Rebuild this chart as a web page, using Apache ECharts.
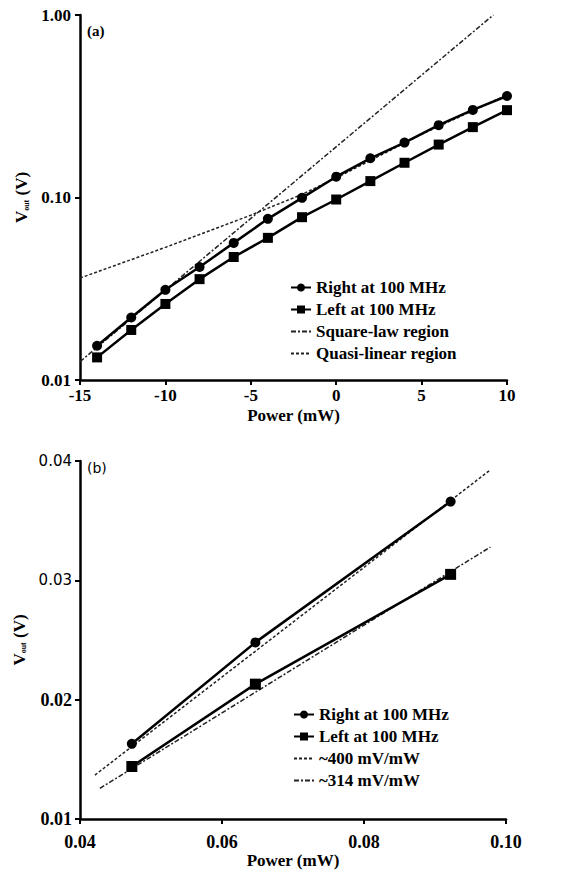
<!DOCTYPE html>
<html>
<head>
<meta charset="utf-8">
<script src="https://cdn.jsdelivr.net/npm/echarts@6/dist/echarts.min.js"></script>
<style>
	html, body { margin: 0; padding: 0; background: #fff; }
	#chart { width: 562px; height: 872px; }
</style>
</head>
<body>
<div id="chart"></div>
<script>
// (a) output voltage vs input power (dBm), log scale
const powerDbm = [ -14, -12, -10, -8, -6, -4, -2, 0, 2, 4, 6, 8, 10 ];
const rightA = [ 0.0154, 0.0220, 0.0312, 0.0416, 0.0564, 0.0764, 0.0996, 0.130, 0.164, 0.200, 0.249, 0.302, 0.360 ];
const leftA = [ 0.0133, 0.0188, 0.0261, 0.0357, 0.0472, 0.0601, 0.0780, 0.0975, 0.123, 0.155, 0.195, 0.243, 0.301 ];
const squareLawX = [ -15, 9.2 ];
const squareLawY = [ 0.0126, 1.0 ];
const quasiX = [ -15, -10, -5, -2, 0, 5, 10 ];
const quasiY = [ 0.0362, 0.0533, 0.0800, 0.104, 0.128, 0.222, 0.365 ];

// (b) output voltage vs input power (mW), linear
const powerMw = [ 0.0473, 0.0647, 0.0922 ];
const rightB = [ 0.0163, 0.0248, 0.0366 ];
const leftB = [ 0.0144, 0.0213, 0.0305 ];
const fit400X = [ 0.0421, 0.0978 ];
const fit400Y = [ 0.01368, 0.03926 ];
const fit314X = [ 0.0428, 0.0978 ];
const fit314Y = [ 0.01257, 0.03279 ];

const SERIF = '"Liberation Serif", "Times New Roman", serif';
const SANS = '"DejaVu Sans", sans-serif';
const DOTTED = [ 3, 2 ];
const DASHDOT = [ 5, 2, 2, 2 ];

const zip = ( xs, ys ) => xs.map( ( x, i ) => [ x, ys[ i ] ] );

const axisLine = { onZero: false, lineStyle: { color: '#000', width: 2.5 } };
const axisTick = { inside: false, length: 5, lineStyle: { color: '#000', width: 2 } };

const yName = '{v|V}{s|out}{v| (V)}';
const yNameStyle = {
	rich: {
		v: { fontFamily: SERIF, fontSize: 17, fontWeight: 'bold', color: '#000' },
		s: { fontFamily: SERIF, fontSize: 8, fontWeight: 'bold', color: '#000', verticalAlign: 'bottom', padding: [ 6, 0, 0, 0 ] }
	}
};

const dataSeries = ( name, symbol, size, data, xi ) => ( {
	name,
	type: 'line',
	xAxisIndex: xi,
	yAxisIndex: xi,
	data,
	symbol,
	symbolSize: size,
	showSymbol: true,
	lineStyle: { color: '#000', width: 2.5 },
	itemStyle: { color: '#000' },
	z: 3
} );

const fitSeries = ( name, dash, data, xi ) => ( {
	name,
	type: 'line',
	xAxisIndex: xi,
	yAxisIndex: xi,
	data,
	symbol: 'none',
	lineStyle: { color: '#222', width: 1.5, type: dash },
	itemStyle: { color: '#222' },
	z: 2
} );

// legend entries for the fitted lines show the dash pattern only
const lineOnly = ( name ) => ( { name, itemStyle: { color: 'rgba(0,0,0,0)', borderWidth: 0 } } );

const legendText = { fontFamily: SERIF, fontSize: 17, fontWeight: 'bold', color: '#000', lineHeight: 17 };

const chart = echarts.init( document.getElementById( 'chart' ), null, { renderer: 'svg' } );

chart.setOption( {
	animation: false,
	textStyle: { fontFamily: SERIF, color: '#000' },
	title: [
		{ text: '(a)', left: 82, top: 18, textStyle: { fontFamily: SERIF, fontSize: 15, fontWeight: 'bold', color: '#000' } },
		{ text: '(b)', left: 82, top: 456, textStyle: { fontFamily: SANS, fontSize: 14, fontWeight: 'normal', color: '#000' } }
	],
	grid: [
		{ left: 80, top: 15, width: 427, height: 365 },
		{ left: 80, top: 461, width: 426, height: 358 }
	],
	legend: [
		{
			orient: 'vertical',
			left: 285,
			top: 274,
			itemWidth: 20,
			itemHeight: 10,
			itemGap: 5,
			textStyle: legendText,
			data: [ 'Right at 100 MHz', 'Left at 100 MHz', lineOnly( 'Square-law region' ), lineOnly( 'Quasi-linear region' ) ]
		},
		{
			orient: 'vertical',
			left: 288,
			top: 701,
			itemWidth: 20,
			itemHeight: 10,
			itemGap: 5,
			textStyle: legendText,
			data: [ 'Right at 100 MHz', 'Left at 100 MHz', lineOnly( '~400 mV/mW' ), lineOnly( '~314 mV/mW' ) ]
		}
	],
	xAxis: [
		{
			gridIndex: 0,
			type: 'value',
			min: -15,
			max: 10,
			interval: 5,
			splitLine: { show: false },
			axisLine,
			axisTick,
			axisLabel: { fontFamily: SERIF, fontSize: 17, fontWeight: 'bold', color: '#000', margin: 7 },
			name: 'Power (mW)',
			nameLocation: 'middle',
			nameGap: 27,
			nameTextStyle: { fontFamily: SERIF, fontSize: 17, fontWeight: 'bold', color: '#000' }
		},
		{
			gridIndex: 1,
			type: 'value',
			min: 0.04,
			max: 0.10,
			interval: 0.02,
			splitLine: { show: false },
			axisLine,
			axisTick,
			axisLabel: {
				fontFamily: SERIF, fontSize: 18, fontWeight: 'bold', color: '#000', margin: 14,
				formatter: ( v ) => v.toFixed( 2 )
			},
			name: 'Power (mW)',
			nameLocation: 'middle',
			nameGap: 31,
			nameTextStyle: { fontFamily: SERIF, fontSize: 17, fontWeight: 'bold', color: '#000' }
		}
	],
	yAxis: [
		{
			gridIndex: 0,
			type: 'log',
			logBase: 10,
			min: 0.01,
			max: 1,
			splitLine: { show: false },
			minorTick: { show: false },
			axisLine,
			axisTick,
			axisLabel: {
				fontFamily: SERIF, fontSize: 17, fontWeight: 'bold', color: '#000', margin: 9,
				formatter: ( v ) => v.toFixed( 2 )
			},
			name: yName,
			nameLocation: 'middle',
			nameGap: 50,
			nameRotate: 90,
			nameTextStyle: yNameStyle
		},
		{
			gridIndex: 1,
			type: 'value',
			min: 0.01,
			max: 0.04,
			interval: 0.01,
			splitLine: { show: false },
			axisLine,
			axisTick,
			axisLabel: {
				margin: 8,
				// the upper two labels are set in a sans face in the original
				formatter: ( v ) => ( v > 0.025 ? '{s|' : '{r|' ) + v.toFixed( 2 ) + '}',
				rich: {
					s: { fontFamily: SANS, fontSize: 15, color: '#000' },
					r: { fontFamily: SERIF, fontSize: 18, fontWeight: 'bold', color: '#000' }
				}
			},
			name: yName,
			nameLocation: 'middle',
			nameGap: 50,
			nameRotate: 90,
			nameTextStyle: yNameStyle
		}
	],
	series: [
		dataSeries( 'Right at 100 MHz', 'circle', 10, zip( powerDbm, rightA ), 0 ),
		dataSeries( 'Left at 100 MHz', 'rect', 10, zip( powerDbm, leftA ), 0 ),
		fitSeries( 'Square-law region', DASHDOT, zip( squareLawX, squareLawY ), 0 ),
		fitSeries( 'Quasi-linear region', DOTTED, zip( quasiX, quasiY ), 0 ),
		dataSeries( 'Right at 100 MHz', 'circle', 10, zip( powerMw, rightB ), 1 ),
		dataSeries( 'Left at 100 MHz', 'rect', 11, zip( powerMw, leftB ), 1 ),
		fitSeries( '~400 mV/mW', DOTTED, zip( fit400X, fit400Y ), 1 ),
		fitSeries( '~314 mV/mW', DASHDOT, zip( fit314X, fit314Y ), 1 )
	]
} );
</script>
</body>
</html>
